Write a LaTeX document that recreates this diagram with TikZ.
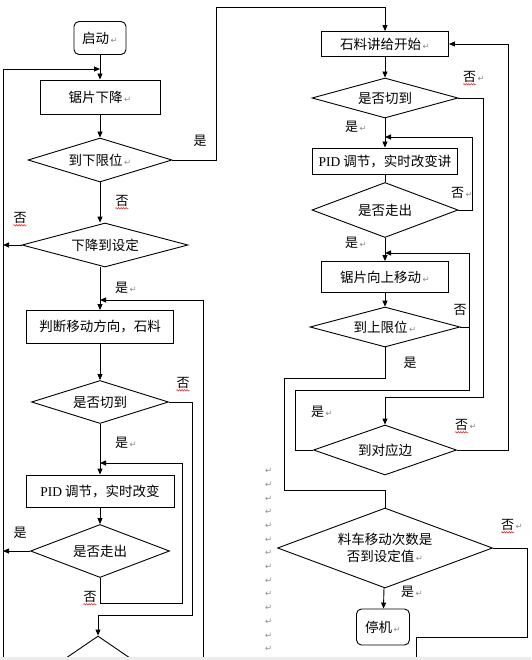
\documentclass[tikz,border=0pt]{standalone}
\usepackage{fontspec}
\setmainfont{Liberation Serif}
\newfontfamily\cjk{Noto Sans CJK SC}
\newfontfamily\dejavu{DejaVu Sans}
\usetikzlibrary{arrows.meta,shapes.geometric,decorations.pathmorphing,calc}
\newcommand\pmk{{\color{gray!90}\dejavu\fontsize{8.5}{8.5}\selectfont\,↵}}
\tikzset{
    every node/.style={font=\cjk\fontsize{13.5}{17}\selectfont, inner sep=0pt},
    box/.style={draw, line width=0.9pt, rectangle},
    startbox/.style={box, rounded corners=5pt},
    dia/.style={draw, line width=0.9pt, diamond, aspect=3},
    arr/.style={line width=0.9pt, -{Triangle[length=6pt,width=5pt]}},
    line/.style={line width=0.9pt},
    lbl/.style={font=\cjk\fontsize{13}{15}\selectfont},
    spell/.style={red, line width=0.5pt, decorate, decoration={snake, amplitude=0.7pt, segment length=2.5pt}},
}
\begin{document}
\begin{tikzpicture}[x=1pt, y=-1pt]
    \useasboundingbox (0,0) rectangle (531,660);

    \node[startbox, minimum width=52, minimum height=33] (start) at (100,38) {启动\pmk};
    \node[box, minimum width=120, minimum height=34] (fall) at (100,97) {锯片下降\pmk};
    \node[dia, minimum width=144, minimum height=44] (lowlim) at (100,160) {到下限位\pmk};
    \node[dia, minimum width=166, minimum height=44] (setdepth) at (105,245) {下降到设定};
    \node[box, minimum width=147, minimum height=33] (judge) at (100,327) {判断移动方向，石料};
    \node[dia, minimum width=137, minimum height=43] (cutL) at (100,402) {是否切到};
    \node[box, minimum width=148, minimum height=32] (pidL) at (100,491) {{\rmfamily PID} 调节，实时改变};
    \node[dia, minimum width=139, minimum height=53] (outL) at (100,551) {是否走出};
    \node[dia, minimum width=117, minimum height=80] (nextL) at (98,676) {};

    \node[box, minimum width=127, minimum height=25] (feed) at (385,44) {石料讲给开始\pmk};
    \node[dia, minimum width=146, minimum height=40] (cutR) at (385,98) {是否切到};
    \node[box, minimum width=145, minimum height=26] (pidR) at (385,161) {{\rmfamily PID} 调节，实时改变讲};
    \node[dia, minimum width=146, minimum height=55] (outR) at (385,210) {是否走出};
    \node[box, minimum width=127, minimum height=31] (rise) at (385,277) {锯片向上移动\pmk};
    \node[dia, minimum width=150, minimum height=40] (uplim) at (385,327) {到上限位\pmk};
    \node[dia, minimum width=143, minimum height=50] (edge) at (385,450) {到对应边};
    \node[dia, minimum width=215, minimum height=80, align=center] (count) at (385,548) {料车移动次数是\\否到设定值\pmk};
    \node[startbox, minimum width=53, minimum height=36] (stop) at (383,627) {停机\pmk};

    \coordinate (topL) at (100,69);
    \coordinate (railL) at (3,660);
    \coordinate (topJ) at (100,300);
    \coordinate (railM) at (203,660);
    \coordinate (loopJ) at (100,463);
    \coordinate (loopB) at (182,603);
    \coordinate (cutB) at (192,615);
    \coordinate (over) at (216,7);

    \draw[arr] (railL) |- (topL);
    \draw[arr] (start) -- (fall);
    \draw[arr] (fall) -- (lowlim);
    \draw[arr] (lowlim.east) -| (over) -| (feed.north);
    \draw[arr] (lowlim.south) -- (lowlim.south |- setdepth.north);
    \draw[arr] (setdepth.west) -- (setdepth.west -| railL);
    \draw[arr] (lowlim.south |- setdepth.south) -- (judge.north);
    \draw[arr] (railM) |- (topJ);
    \draw[arr] (judge) -- (cutL);
    \draw[arr] (cutL.east) -| (cutB) -| (nextL.north);
    \draw[arr] (cutL) -- (pidL);
    \draw[arr] (outL.south) |- (loopB) |- (loopJ);
    \draw[arr] (pidL) -- (outL);
    \draw[arr] (outL.west) -- (outL.west -| railL);

    \coordinate (feedR) at (508,44);
    \coordinate (missR) at (483,397);
    \coordinate (backJ) at (385,137);
    \coordinate (backR) at (472,137);
    \coordinate (upJ) at (385,253);
    \coordinate (upR) at (469,253);
    \coordinate (edgeL) at (295,390);
    \coordinate (doneL) at (284,378);
    \coordinate (doneJ) at (385,490);
    \coordinate (againR) at (527,637);
    \coordinate (againB) at (416,660);

    \draw[arr] (feed) -- (cutR);
    \draw[arr] (cutR.east) -| (missR) -| (edge.north);
    \draw[arr] (cutR) -- (pidR);
    \draw[arr] (outR.east) -| (backR) -- (backJ);
    \draw[line] (pidR) -- (outR);
    \draw[arr] (outR) -- (rise);
    \draw[arr] (edge.west) -| (edgeL) -| (upR) -- (upJ);
    \draw[line] (uplim.east) -- (uplim.east -| upR);
    \draw[arr] (rise) -- (uplim);
    \draw[line] (uplim.south) |- (doneL) |- (doneJ) -- (count.north);
    \draw[arr] (edge.east) -| (feedR) -- (feed.east);
    \draw[line] (count.east) -| (againR) -| (againB);
    \draw[arr] (count) -- (stop);

    \node[lbl] (yes1) at (200,141) {是};
    \node[lbl] (no1) at (122,201) {否};
    \node[lbl] (no2) at (20,218) {否};
    \node[lbl] (yes2) at (126,288) {是\pmk};
    \node[lbl] (no3) at (183,383) {否};
    \node[lbl] (yes3) at (126,443) {是\pmk};
    \node[lbl] (yes4) at (20,533) {是};
    \node[lbl] (no4) at (90,597) {否};
    \node[lbl] (no5) at (474,77) {否\pmk};
    \node[lbl] (yes5) at (356,127) {是\pmk};
    \node[lbl] (no6) at (462,193) {否\pmk};
    \node[lbl] (yes6) at (356,243) {是\pmk};
    \node[lbl] (no7) at (460,310) {否};
    \node[lbl] (yes7) at (410,363) {是};
    \node[lbl] (yes8) at (322,412) {是\pmk};
    \node[lbl] (no8) at (466,425) {否\pmk};
    \node[lbl] (no9) at (512,525) {否\pmk};
    \node[lbl] (yes9) at (412,592) {是\pmk};

    \foreach \q in {no1,no2,no3,no4,no5,no8,no9}
        \draw[spell] ([yshift=-1.5pt]\q.south west) -- ++(13,0);

    \foreach \i in {0,...,13}
        \node (pm\i) at (268,{471+13.7*\i}) {\pmk};

    \fill[gray!15] (0,657) rectangle (531,660);
\end{tikzpicture}
\end{document}
